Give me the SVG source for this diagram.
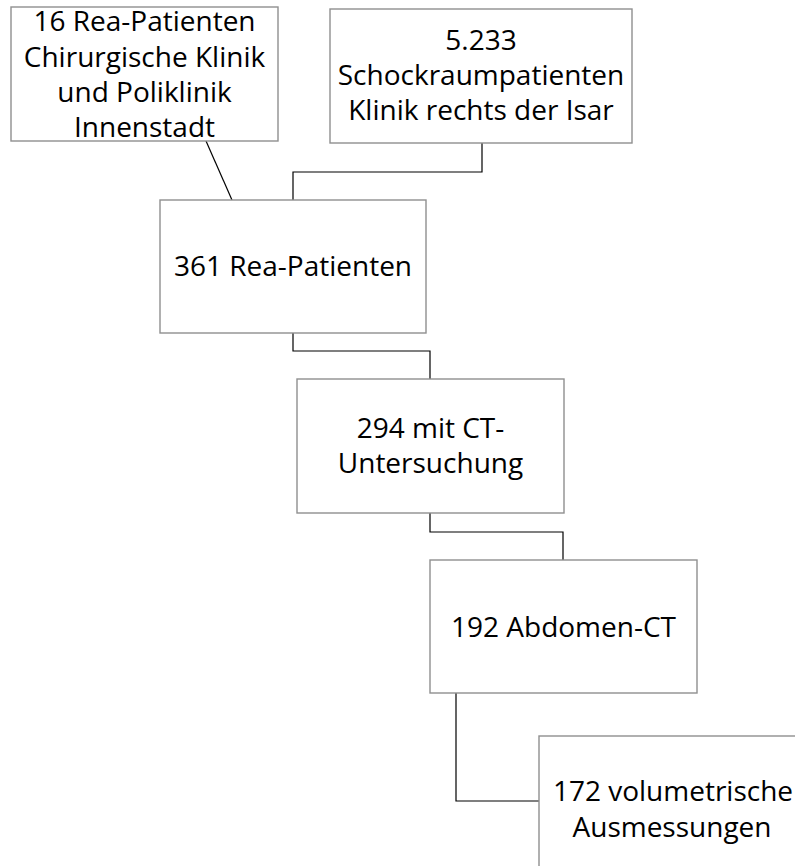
<svg xmlns="http://www.w3.org/2000/svg" width="795" height="866" viewBox="0 0 795 866">
<style>
.box{fill:#ffffff;stroke:#8f8f8f;stroke-width:1.4}
.t{font-family:"Open Sans","Noto Sans",sans-serif;font-size:28px;fill:#000;text-anchor:middle}
.c{fill:none;stroke:#000;stroke-width:1.2}
</style>
<rect width="795" height="866" fill="#ffffff"/>
<g id="connectors">
<path class="c" d="M206,141 L232,200"/>
<path class="c" d="M482,143 V172 H293 V200"/>
<path class="c" d="M293,333 V351 H430 V379"/>
<path class="c" d="M430,513 V532 H563 V560"/>
<path class="c" d="M456,693 V801 H539"/>
</g>
<g id="n1">
<rect class="box" x="11" y="7" width="267" height="134"/>
<text class="t" x="144.5" y="31">16 Rea-Patienten</text>
<text class="t" x="144.5" y="66.5">Chirurgische Klinik</text>
<text class="t" x="144.5" y="101.5">und Poliklinik</text>
<text class="t" x="144.5" y="137">Innenstadt</text>
</g>
<g id="n2">
<rect class="box" x="330" y="9" width="302" height="134"/>
<text class="t" x="481" y="50">5.233</text>
<text class="t" x="481" y="85">Schockraumpatienten</text>
<text class="t" x="481" y="120">Klinik rechts der Isar</text>
</g>
<g id="n3">
<rect class="box" x="160" y="200" width="266" height="133"/>
<text class="t" x="293" y="276">361 Rea-Patienten</text>
</g>
<g id="n4">
<rect class="box" x="297" y="379" width="267" height="134"/>
<text class="t" x="430.5" y="438">294 mit CT-</text>
<text class="t" x="430.5" y="473">Untersuchung</text>
</g>
<g id="n5">
<rect class="box" x="430" y="560" width="267" height="133"/>
<text class="t" x="563.5" y="637">192 Abdomen-CT</text>
</g>
<g id="n6">
<rect class="box" x="539" y="736" width="267" height="134"/>
<text class="t" x="673" y="801">172 volumetrische</text>
<text class="t" x="672" y="837">Ausmessungen</text>
</g>
</svg>
